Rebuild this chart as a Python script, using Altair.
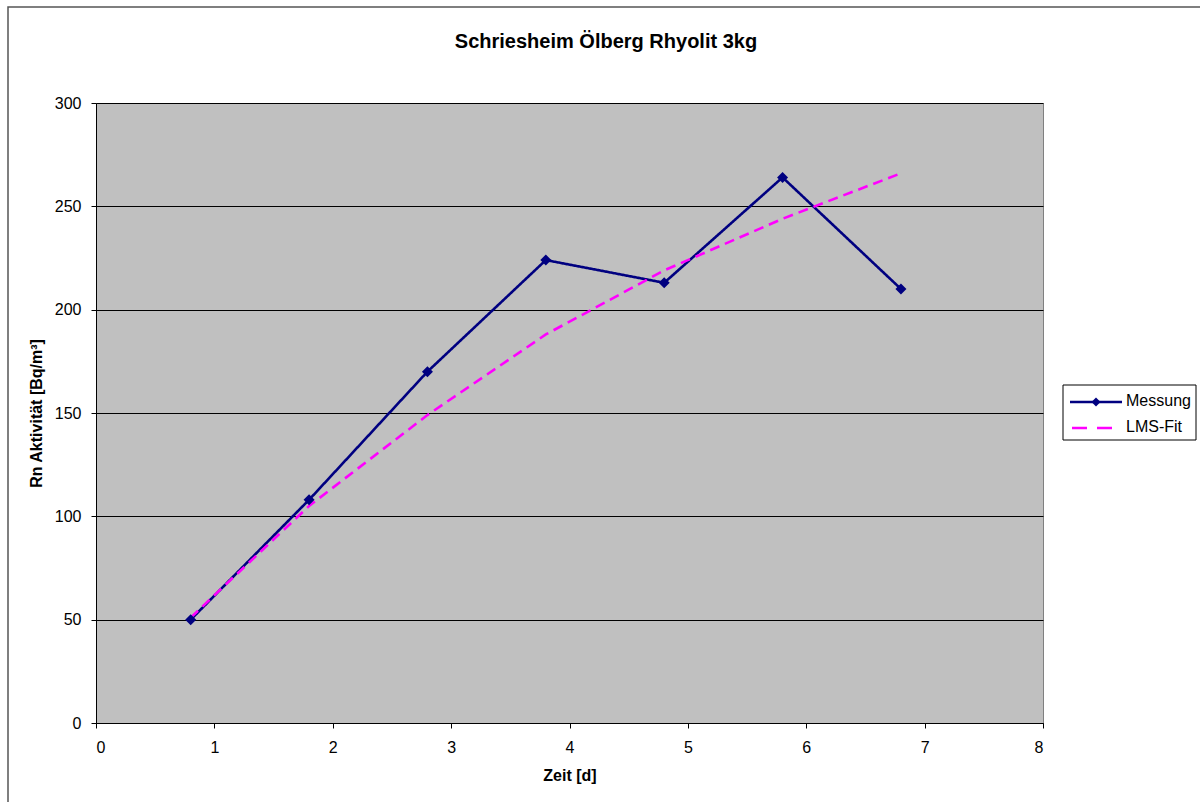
import altair as alt
import pandas as pd

# --- data ---
zeit = [0.8, 1.8, 2.8, 3.8, 4.8, 5.8, 6.8]
messung = [50, 108, 170, 224, 213, 264, 210]
lms_fit = [51, 105, 149, 188, 219, 244, 266]
series_names = ["Messung", "LMS-Fit"]
series_colors = ["#000080", "#FF00FF"]
x_ticks = [0, 1, 2, 3, 4, 5, 6, 7, 8]
y_ticks = [0, 50, 100, 150, 200, 250, 300]
title_text = ["Schriesheim Ölberg Rhyolit 3kg"]

df = pd.DataFrame({
    "zeit": zeit + zeit,
    "wert": messung + lms_fit,
    "serie": [series_names[0]] * len(zeit) + [series_names[1]] * len(zeit),
})

FONT = "Liberation Sans"
W, H = 947, 620
PAD = {"left": 96, "top": 103, "right": 1200 - 96 - W, "bottom": 802 - 103 - H}

x_enc = alt.X(
    "zeit:Q",
    scale=alt.Scale(domain=[0, 8], nice=False),
    axis=alt.Axis(values=x_ticks, title="Zeit [d]", grid=False, format="d",
                  labelPadding=11, labelFontSize=16, titlePadding=12),
)
y_enc = alt.Y(
    "wert:Q",
    scale=alt.Scale(domain=[0, 300], nice=False),
    axis=alt.Axis(values=y_ticks, title="Rn Aktivität [Bq/m³]", grid=True, format="d",
                  labelPadding=10, labelFontSize=16, titlePadding=10),
)

color_scale = alt.Scale(domain=series_names, range=series_colors)

lines = alt.Chart(df).mark_line(strokeWidth=2.6).encode(
    x=x_enc,
    y=y_enc,
    color=alt.Color("serie:N", scale=color_scale, legend=None),
    strokeDash=alt.StrokeDash(
        "serie:N",
        scale=alt.Scale(domain=series_names, range=[[1, 0], [10, 6]]),
        legend=None,
    ),
    order="zeit:Q",
)

points = alt.Chart(df).transform_filter(alt.datum.serie == "Messung").mark_point(
    shape="diamond", filled=True, size=121, opacity=1, color="#000080"
).encode(x="zeit:Q", y="wert:Q")

# --- hand-made legend (positions relative to the plot area) ---
leg_df = pd.DataFrame({"serie": series_names})
LX0, LX1, LY0, LY1 = 967, 1100, 282, 337
ROW_Y = [299, 325]
TXT_Y = [298, 324]

leg_box = alt.Chart(leg_df).transform_filter(alt.datum.serie == "Messung").mark_rect(
    fill="white", stroke="black", strokeWidth=1
).encode(x=alt.value(LX0), x2=alt.value(LX1), y=alt.value(LY0), y2=alt.value(LY1))

leg_line1 = alt.Chart(leg_df).transform_filter(alt.datum.serie == "Messung").mark_rule(
    strokeWidth=2.5, color=series_colors[0]
).encode(x=alt.value(974), x2=alt.value(1026), y=alt.value(ROW_Y[0]))

leg_pt1 = alt.Chart(leg_df).transform_filter(alt.datum.serie == "Messung").mark_point(
    shape="diamond", filled=True, size=80, opacity=1, color=series_colors[0]
).encode(x=alt.value(1000), y=alt.value(ROW_Y[0]))

leg_line2 = alt.Chart(leg_df).transform_filter(alt.datum.serie == "LMS-Fit").mark_rule(
    strokeWidth=2.5, color=series_colors[1], strokeDash=[15, 10]
).encode(x=alt.value(976), x2=alt.value(1026), y=alt.value(ROW_Y[1]))

leg_txt1 = alt.Chart(leg_df).transform_filter(alt.datum.serie == "Messung").mark_text(
    align="left", baseline="middle", font=FONT, fontSize=16, color="black"
).encode(x=alt.value(1030), y=alt.value(TXT_Y[0]), text="serie:N")

leg_txt2 = alt.Chart(leg_df).transform_filter(alt.datum.serie == "LMS-Fit").mark_text(
    align="left", baseline="middle", font=FONT, fontSize=16, color="black"
).encode(x=alt.value(1030), y=alt.value(TXT_Y[1]), text="serie:N")

# --- chart title as a text mark (the outer frame would push a Vega title off the page) ---
title = alt.Chart(pd.DataFrame({"t": title_text})).mark_text(
    align="center", baseline="alphabetic", font=FONT, fontSize=20, fontWeight="bold", color="black"
).encode(x=alt.value(510), y=alt.value(-55), text="t:N")

frame = alt.Chart(leg_df).transform_filter(alt.datum.serie == "Messung").mark_rect(
    fill="transparent", stroke="#555555", strokeWidth=1.5
).encode(
    x=alt.value(8 - 96), x2=alt.value(1200 - 96 + 20),
    y=alt.value(7 - 103), y2=alt.value(802 - 103 + 20),
)

chart = alt.layer(
    lines, points, leg_box, leg_line1, leg_pt1, leg_line2, leg_txt1, leg_txt2, title, frame
).properties(
    width=W,
    height=H,
    autosize=alt.AutoSizeParams(type="none"),
    padding=PAD,
    background="white",
).configure_view(
    fill="#C0C0C0", stroke="#808080", strokeWidth=1
).configure_axis(
    labelFont=FONT,
    labelFontSize=16,
    labelColor="black",
    titleFont=FONT,
    titleFontSize=16,
    titleFontWeight="bold",
    titleColor="black",
    domainColor="black",
    domainWidth=1,
    tickColor="black",
    tickSize=5,
    gridColor="black",
    gridOpacity=1,
    gridWidth=1,
)

chart.save("out.html", embed_options={"renderer": "svg", "actions": False})
